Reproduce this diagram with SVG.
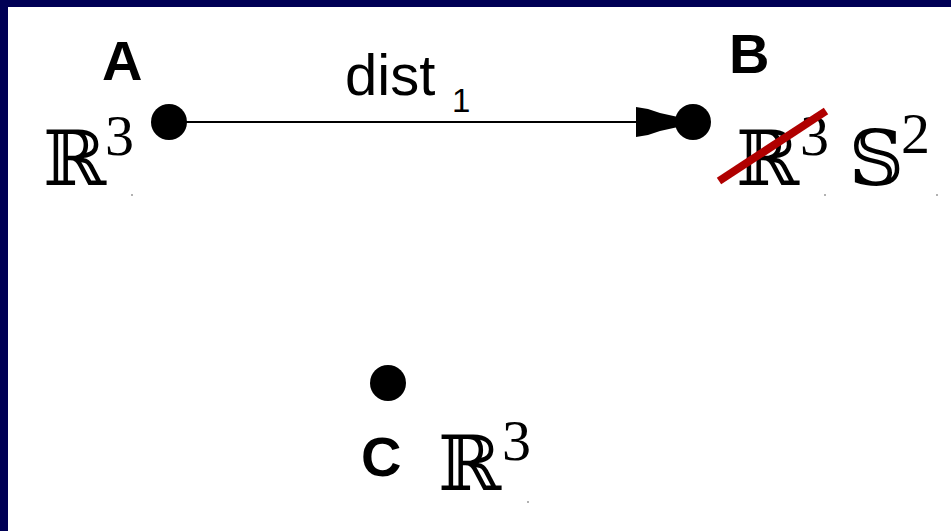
<svg xmlns="http://www.w3.org/2000/svg" width="951" height="531" viewBox="0 0 951 531">
<style>
.lbl{font-family:"Liberation Sans",Arial,sans-serif;font-weight:bold;font-size:56px;fill:#000}
.bb{font-family:"DejaVu Serif","DejaVu Sans",serif;font-size:76px;fill:#000}
.sup{font-family:"Liberation Serif","Times New Roman",serif;font-size:58px;fill:#000}
.dist{font-family:"Liberation Sans",Arial,sans-serif;font-size:58px;fill:#000}
.sub{font-family:"Liberation Sans",Arial,sans-serif;font-size:33px;fill:#000}
.dot{fill:#000}
.spk{fill:#999}
</style>
<rect x="0" y="0" width="951" height="531" fill="#000055"/>
<rect x="8" y="7" width="943" height="524" fill="#fff"/>
<g id="connectors">
<line x1="170" y1="122" x2="640" y2="122" stroke="#000" stroke-width="2"/>
<polygon points="636,107 648,109 660,113 678,117 678,127 660,131 648,135 636,137" fill="#000"/>
<text class="dist" x="345" y="95">dist</text>
<text class="sub" x="452" y="112">1</text>
</g>
<g id="nodeA">
<circle class="dot" cx="169" cy="122" r="18"/>
<text class="lbl" x="102" y="80">A</text>
<text class="bb" x="43" y="185">ℝ</text>
<text class="sup" x="105" y="155">3</text>
<circle class="spk" cx="132" cy="195" r="1"/>
</g>
<g id="nodeB">
<circle class="dot" cx="693" cy="122" r="18"/>
<text class="lbl" x="729" y="73">B</text>
<text class="bb" x="736" y="185">ℝ</text>
<text class="sup" x="800" y="155">3</text>
<line x1="719" y1="181" x2="826" y2="111" stroke="#b00000" stroke-width="8"/>
<text class="bb" x="849" y="185">𝕊</text>
<text class="sup" x="901" y="153">2</text>
<circle class="spk" cx="825" cy="195" r="1"/>
<circle class="spk" cx="937" cy="195" r="1"/>
</g>
<g id="nodeC">
<circle class="dot" cx="388" cy="383" r="18"/>
<text class="lbl" x="361" y="476">C</text>
<text class="bb" x="438" y="490">ℝ</text>
<text class="sup" x="502" y="460">3</text>
<circle class="spk" cx="528" cy="502" r="1"/>
</g>
</svg>
